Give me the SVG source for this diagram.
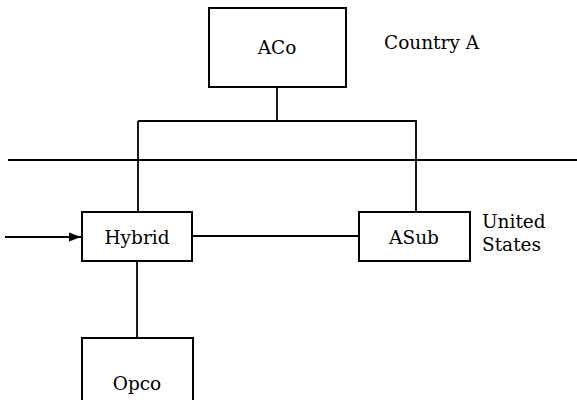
<svg xmlns="http://www.w3.org/2000/svg" width="577" height="400" viewBox="0 0 577 400">
<defs>
<style>
.box{fill:#fff;stroke:#000;stroke-width:2}
.ln{fill:none;stroke:#000;stroke-width:1.8}
text{font-family:"DejaVu Serif","Liberation Serif",serif;font-size:18.5px;fill:#000}
.c{text-anchor:middle}
</style>
<marker id="arr" markerWidth="14" markerHeight="12" refX="12" refY="6" orient="auto" markerUnits="userSpaceOnUse">
<path d="M0,1.5 L12,6 L0,10.5 Z" fill="#000"/>
</marker>
</defs>
<rect width="577" height="400" fill="#fff"/>
<g id="connectors">
<path class="ln" d="M277,87 V121"/>
<path class="ln" d="M138,121 H416 V212"/>
<path class="ln" d="M138,121 V212"/>
<path class="ln" d="M8,160 H577"/>
<path class="ln" d="M192,236 H359"/>
<path class="ln" d="M137,261 V338"/>
<path class="ln" d="M5,237 H81" marker-end="url(#arr)"/>
</g>
<g id="aco">
<rect class="box" x="209" y="8" width="137" height="79"/>
<text class="c" x="277" y="54">ACo</text>
</g>
<g id="country-a">
<text x="384" y="49">Country A</text>
</g>
<g id="hybrid">
<rect class="box" x="82" y="212" width="110" height="49"/>
<text class="c" x="137" y="244">Hybrid</text>
</g>
<g id="asub">
<rect class="box" x="359" y="212" width="111" height="49"/>
<text class="c" x="414" y="244">ASub</text>
</g>
<g id="united-states">
<text x="482" y="228">United</text>
<text x="482" y="251">States</text>
</g>
<g id="opco">
<rect class="box" x="82" y="338" width="111" height="70"/>
<text class="c" x="137" y="390">Opco</text>
</g>
</svg>
